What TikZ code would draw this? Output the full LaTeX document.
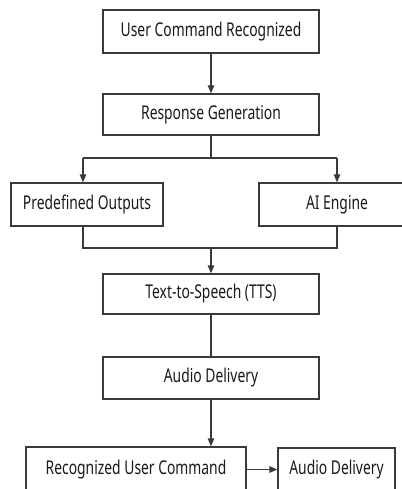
\documentclass[tikz,border=0pt]{standalone}
\usepackage{fontspec}
\setmainfont{Noto Sans}[FakeStretch=0.73]
\usetikzlibrary{arrows.meta}
\definecolor{edge}{HTML}{3A3A3A}
\definecolor{ink}{HTML}{1A1A1A}
\tikzset{
  flowbox/.style={draw=edge, line width=1.3pt, fill=white, text=ink,
    inner sep=0pt, font=\fontsize{19}{21}\selectfont},
  link/.style={draw=edge, line width=1.3pt},
  flow/.style={link, -{Triangle[width=6.5pt,length=8pt]}}
}
\begin{document}
\begin{tikzpicture}[x=1pt,y=-1pt]
  \useasboundingbox (0,0) rectangle (401,489);
  \fill[white] (0,0) rectangle (401,489);

  % main column
  \node[flowbox, minimum width=216pt, minimum height=43pt] (cmd) at (211,31.5) {User Command Recognized};
  \node[flowbox, minimum width=216pt, minimum height=41pt] (gen) at (211,114.5) {Response Generation};
  \node[flowbox, minimum width=152pt, minimum height=43pt] (pre) at (87,204.5) {Predefined Outputs};
  \node[flowbox, minimum width=156pt, minimum height=43pt] (ai) at (337,204.5) {AI Engine};
  \node[flowbox, minimum width=216pt, minimum height=40pt] (tts) at (211,294) {Text-to-Speech (TTS)};
  \node[flowbox, minimum width=216pt, minimum height=42pt] (aud) at (211,378) {Audio Delivery};
  \node[flowbox, minimum width=220pt, minimum height=45pt] (rec) at (136,469.5) {Recognized User Command};
  \node[flowbox, minimum width=117pt, minimum height=43pt] (out) at (336.5,469.5) {Audio Delivery};

  % split and merge points
  \coordinate (split) at (211,158);
  \coordinate (splitL) at (83,158);
  \coordinate (splitR) at (337,158);
  \coordinate (merge) at (211,248);
  \coordinate (mergeL) at (83,248);
  \coordinate (mergeR) at (337,248);

  \draw[flow] (cmd) -- (gen);
  \draw[link] (gen) -- (split);
  \draw[link] (splitL) -- (splitR);
  \draw[flow] (splitL) -- (splitL |- pre.north);
  \draw[flow] (splitR) -- (splitR |- ai.north);
  \draw[link] (mergeL |- pre.south) -- (mergeL) -- (mergeR) -- (mergeR |- ai.south);
  \draw[flow] (merge) -- (tts);
  \draw[link] (tts) -- (aud);
  \draw[flow] (aud.south) -- (aud.south |- rec.north);
  \draw[flow] (rec.east |- out.west) -- (out.west);
\end{tikzpicture}
\end{document}
